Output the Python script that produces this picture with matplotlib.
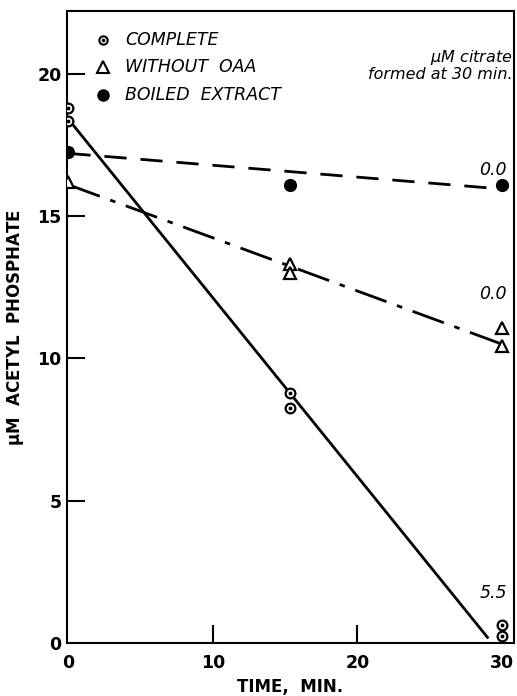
"""Acetyl phosphate disappearance over time."""
import matplotlib
matplotlib.use("Agg")
import matplotlib.pyplot as plt

# complete system
complete_t = [0, 0, 15.3, 15.3, 30.0, 30.0]
complete_v = [18.8, 18.35, 8.8, 8.25, 0.63, 0.25]
complete_fit_t = [0, 29.0]
complete_fit_v = [18.4, 0.2]

# without OAA
no_oaa_t = [0, 15.3, 15.3, 30.0, 30.0]
no_oaa_v = [16.2, 13.3, 13.0, 11.05, 10.45]
no_oaa_fit_t = [0, 30.0]
no_oaa_fit_v = [16.1, 10.5]

# boiled extract
boiled_t = [0, 15.3, 30.0]
boiled_v = [17.25, 16.1, 16.1]
boiled_fit_t = [0, 30.0]
boiled_fit_v = [17.2, 15.95]

citrate_labels = ["0.0", "0.0", "5.5"]
citrate_pos = [(29.4, 16.6), (29.4, 12.25), (29.4, 1.75)]

plt.rcParams["font.family"] = ["DejaVu Sans"]

fig = plt.figure(figsize=(5.17, 6.96), dpi=100)
ax = fig.add_axes([0.1296, 0.0761, 0.8644, 0.908])

ax.plot(complete_fit_t, complete_fit_v, color="black", lw=2.0)
ax.plot(no_oaa_fit_t, no_oaa_fit_v, color="black", lw=2.0, dashes=(12, 4, 2, 4))
ax.plot(boiled_fit_t, boiled_fit_v, color="black", lw=2.0, dashes=(8, 5))

ax.plot(complete_t, complete_v, "o", ms=7, mfc="white", mec="black", mew=1.6, zorder=5)
ax.plot(complete_t, complete_v, "o", ms=1.8, color="black", zorder=6)
ax.plot(no_oaa_t, no_oaa_v, "^", ms=9, mfc="white", mec="black", mew=1.6, zorder=5)
ax.plot(boiled_t, boiled_v, "o", ms=8.5, color="black", zorder=5)

for lab, (x, y) in zip(citrate_labels, citrate_pos):
    ax.text(x, y, lab, ha="center", va="center", fontsize=12.5, style="italic")

ax.text(30.75, 20.9, "$\\mathit{\\mu}$M citrate\nformed at 30 min.", ha="right", va="top",
        fontsize=11.5, style="italic", linespacing=1.0)

# legend drawn by hand like the original
leg_x, leg_tx = 2.4, 3.9
ax.plot([leg_x], [21.2], "o", ms=6, mfc="white", mec="black", mew=1.5, clip_on=False)
ax.plot([leg_x], [21.2], "o", ms=1.6, color="black", clip_on=False)
ax.plot([leg_x], [20.22], "^", ms=8.5, mfc="white", mec="black", mew=1.5, clip_on=False)
ax.plot([leg_x], [19.25], "o", ms=8, color="black", clip_on=False)
for y, txt in zip([21.2, 20.22, 19.25], ["COMPLETE", "WITHOUT  OAA", "BOILED  EXTRACT"]):
    ax.text(leg_tx, y, txt, va="center", ha="left", fontsize=12.5, style="italic")

ax.set_xlim(-0.1, 30.83)
ax.set_ylim(0, 22.2)
ax.set_xticks([0, 10, 20, 30])
ax.set_yticks([0, 5, 10, 15, 20])
ax.tick_params(direction="in", length=13, width=1.5, labelsize=12.5)
ax.tick_params(axis="x", pad=8)
ax.tick_params(axis="y", pad=4)
for t in (ax.xaxis.get_major_ticks()[0], ax.xaxis.get_major_ticks()[-1],
          ax.yaxis.get_major_ticks()[0]):
    t.tick1line.set_visible(False)
for lab in ax.get_xticklabels() + ax.get_yticklabels():
    lab.set_fontweight("bold")
for s in ax.spines.values():
    s.set_linewidth(1.5)

ax.set_xlabel("TIME,  MIN.", fontsize=12, fontweight="bold", labelpad=4)
ax.set_ylabel("$\\mathbf{\\mu}$M  ACETYL  PHOSPHATE", fontsize=12, fontweight="bold",
              labelpad=8)

fig.savefig("out.png", dpi=100)
